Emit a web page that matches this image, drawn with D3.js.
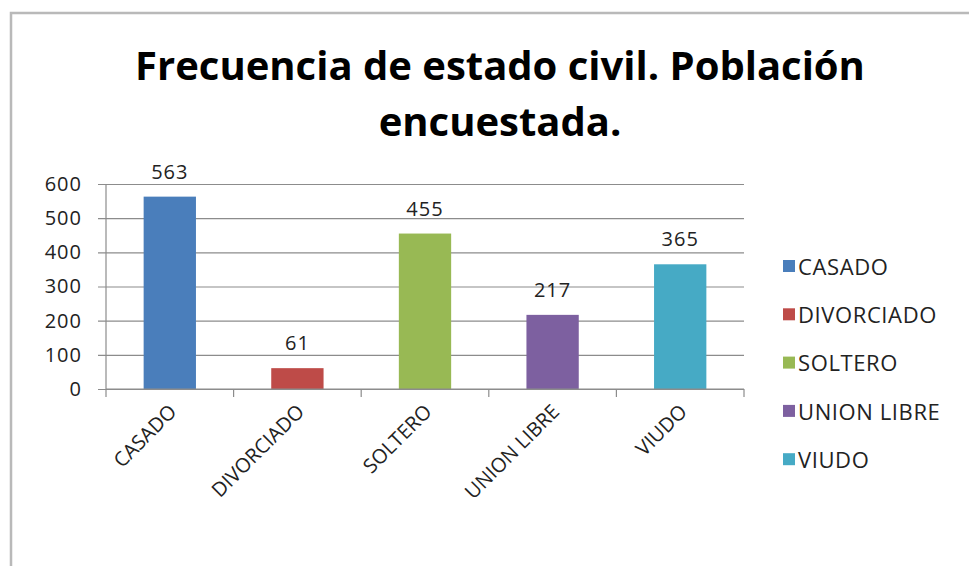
<!DOCTYPE html>
<meta charset="utf-8">
<style>
    body {
        margin: 0;
        background: #fff;
        font-family: 'Open Sans', sans-serif;
    }
</style>
<script src="https://d3js.org/d3.v7.min.js"></script>
<div id="graph"></div>
<script>
    // data
    const categories = ["CASADO", "DIVORCIADO", "SOLTERO", "UNION LIBRE", "VIUDO"],
        values = [563, 61, 455, 217, 365],
        colorList = ["#4a7ebb", "#be4b48", "#98b954", "#7d60a0", "#46aac5"],
        yTicks = [0, 100, 200, 300, 400, 500, 600],
        titleLines = ["Frecuencia de estado civil. Población", "encuestada."];

    const W = 969, H = 566, fs = 20;
    let margin = {top: 184, right: 225, bottom: 177, left: 106},
        width = W - margin.left - margin.right,
        height = H - margin.top - margin.bottom;

    const svg = d3.select("#graph")
        .append("svg")
        .attr("width", W)
        .attr("height", H);

    // outer chart border
    svg.append("rect")
        .attr("x", 11).attr("y", 13)
        .attr("width", W + 20).attr("height", H + 20)
        .attr("fill", "#fff")
        .attr("stroke", "#b9b9b9")
        .attr("stroke-width", 2.5);

    // title
    svg.append("g").selectAll("text")
        .data(titleLines)
        .enter().append("text")
        .attr("x", 500)
        .attr("y", (d, i) => 80 + i * 56)
        .attr("text-anchor", "middle")
        .attr("font-weight", "bold")
        .attr("font-size", 40)
        .attr("fill", "#000")
        .text(d => d);

    const g = svg.append("g")
        .attr("transform", `translate(${margin.left},${margin.top})`);

    const x = d3.scaleBand()
        .domain(categories)
        .range([0, width])
        .padding(0);

    const y = d3.scaleLinear()
        .domain([0, 600])
        .range([height, 0]);

    // gridlines + y axis
    const axisY = g.append("g")
        .call(d3.axisLeft(y).tickValues(yTicks).tickSize(-width));
    axisY.select(".domain").remove();
    axisY.selectAll(".tick line")
        .attr("stroke", "#8c8c8c")
        .attr("stroke-width", 1.2)
        .attr("x1", -8);
    axisY.selectAll(".tick text")
        .attr("font-family", "Open Sans")
        .attr("font-size", fs)
        .attr("letter-spacing", 1)
        .attr("fill", "#222")
        .attr("x", -24);

    // left axis line
    g.append("line")
        .attr("x1", 0).attr("x2", 0)
        .attr("y1", 0).attr("y2", height)
        .attr("stroke", "#8c8c8c")
        .attr("stroke-width", 1.2);

    // bars
    const barW = x.bandwidth() * 0.41;
    g.selectAll("rect.bar")
        .data(values)
        .enter().append("rect")
        .attr("class", "bar")
        .attr("x", (d, i) => x(categories[i]) + (x.bandwidth() - barW) / 2)
        .attr("y", d => y(d))
        .attr("width", barW)
        .attr("height", d => height - y(d))
        .attr("fill", (d, i) => colorList[i]);

    // value labels
    g.selectAll("text.value")
        .data(values)
        .enter().append("text")
        .attr("class", "value")
        .attr("x", (d, i) => x(categories[i]) + x.bandwidth() / 2)
        .attr("y", d => y(d) - 18)
        .attr("text-anchor", "middle")
        .attr("font-size", fs)
        .attr("letter-spacing", 1)
        .attr("fill", "#222")
        .text(d => d);

    // x axis
    const axisX = g.append("g")
        .attr("transform", `translate(0,${height})`)
        .call(d3.axisBottom(x).tickSize(0).tickFormat(""));
    axisX.select(".domain")
        .attr("stroke", "#8c8c8c")
        .attr("stroke-width", 1.2)
        .attr("d", `M0,0H${width}`);
    // boundary ticks between categories
    axisX.selectAll("line.sep")
        .data(d3.range(categories.length + 1))
        .enter().append("line")
        .attr("class", "sep")
        .attr("x1", i => i * x.step()).attr("x2", i => i * x.step())
        .attr("y1", 0).attr("y2", 8)
        .attr("stroke", "#8c8c8c")
        .attr("stroke-width", 1.2);

    // rotated category labels
    g.append("g").selectAll("text.cat")
        .data(categories)
        .enter().append("text")
        .attr("class", "cat")
        .attr("text-anchor", "end")
        .attr("font-size", fs)
        .attr("fill", "#222")
        .attr("transform", d => `translate(${x(d) + x.bandwidth() / 2 + 8},${height + 24})rotate(-45)`)
        .text(d => d);

    // legend
    const legend = svg.append("g")
        .selectAll("g")
        .data(categories)
        .enter().append("g")
        .attr("transform", (d, i) => `translate(783,${266 + i * 48.3})`);
    legend.append("rect")
        .attr("x", 0).attr("y", -6)
        .attr("width", 12).attr("height", 12)
        .attr("fill", (d, i) => colorList[i]);
    legend.append("text")
        .attr("x", 15)
        .attr("y", 1)
        .attr("dy", "0.35em")
        .attr("font-size", 22)
        .attr("letter-spacing", 0.6)
        .attr("fill", "#222")
        .text(d => d);
</script>
